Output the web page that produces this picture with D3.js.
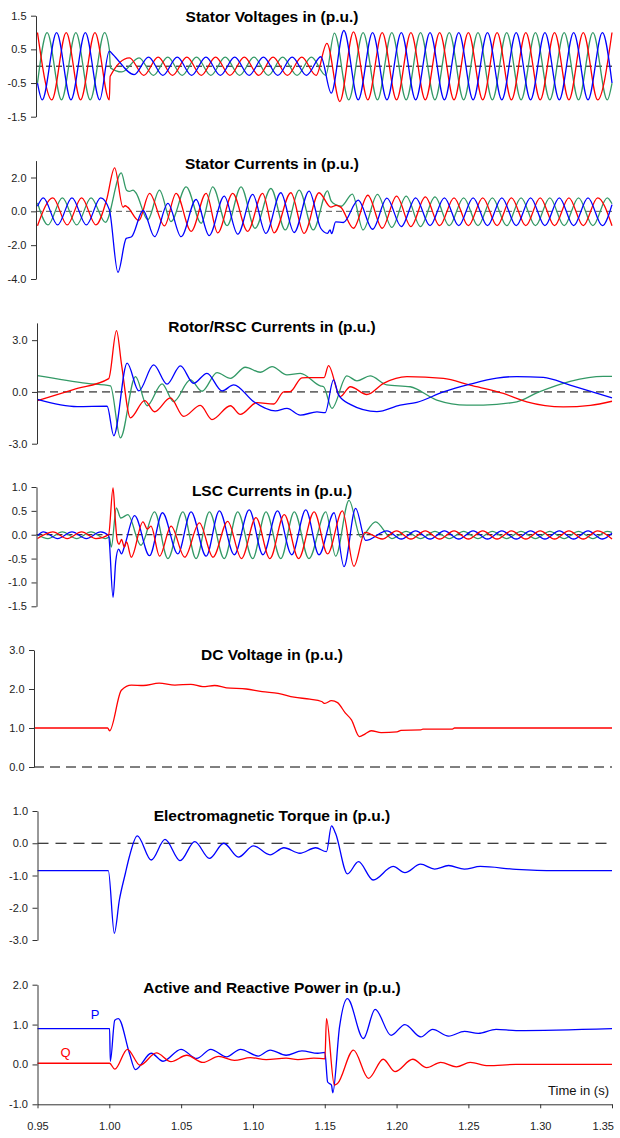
<!DOCTYPE html>
<html>
<head>
<meta charset="utf-8">
<script src="https://cdn.jsdelivr.net/npm/d3@7"></script>
<style>
  body { margin: 0; background: #fff; }
  text { font-family: "Liberation Sans", Arial, sans-serif; }
</style>
</head>
<body>
<svg id="chart" width="620" height="1138"></svg>
<script>
// ---- data (time in s, value in p.u.) ----
// three phase signals are given by their turning points

var timeTicks = [0.95, 1.00, 1.05, 1.10, 1.15, 1.20, 1.25, 1.30, 1.35];

var vsTicks = [-1.5, -0.5, 0.5, 1.5];
var vsRed = [[0.95,1],[0.96,-1],[0.97,1],[0.98,-1],[0.99,1],[1.0,-1],[1.0006,-0.3],[1.014,0.25],[1.024,-0.27],[1.034,0.27],[1.044,-0.27],[1.054,0.27],[1.064,-0.27],[1.074,0.27],[1.084,-0.27],[1.094,0.27],[1.104,-0.27],[1.114,0.27],[1.124,-0.27],[1.134,0.27],[1.144,-0.27],[1.1515,0.68],[1.1605,-1.05],[1.17,1.02],[1.18,-1],[1.19,1],[1.2,-1],[1.21,1],[1.22,-1],[1.23,1],[1.24,-1],[1.25,1],[1.26,-1],[1.27,1],[1.28,-1],[1.29,1],[1.3,-1],[1.31,1],[1.32,-1],[1.33,1],[1.34,-1],[1.35,1]];
var vsBlue = [[0.95,-0.5],[0.9533,-1],[0.9633,1],[0.9733,-1],[0.9833,1],[0.9933,-1],[1.0,0.45],[1.0025,0.35],[1.0173,-0.25],[1.0273,0.27],[1.0373,-0.27],[1.0473,0.27],[1.0573,-0.27],[1.0673,0.27],[1.0773,-0.27],[1.0873,0.27],[1.0973,-0.27],[1.1073,0.27],[1.1173,-0.27],[1.1273,0.27],[1.1373,-0.27],[1.1473,0.28],[1.1545,-0.8],[1.1633,1.06],[1.1733,-1],[1.1833,1],[1.1933,-1],[1.2033,1],[1.2133,-1],[1.2233,1],[1.2333,-1],[1.2433,1],[1.2533,-1],[1.2633,1],[1.2733,-1],[1.2833,1],[1.2933,-1],[1.3033,1],[1.3133,-1],[1.3233,1],[1.3333,-1],[1.3433,1],[1.35,-0.5]];
var vsGreen = [[0.95,-0.5],[0.9567,1],[0.9667,-1],[0.9767,1],[0.9867,-1],[0.9967,1],[1.0,0.5],[1.0008,-0.05],[1.0087,-0.17],[1.0207,0.25],[1.0307,-0.27],[1.0407,0.27],[1.0507,-0.27],[1.0607,0.27],[1.0707,-0.27],[1.0807,0.27],[1.0907,-0.27],[1.1007,0.27],[1.1107,-0.27],[1.1207,0.27],[1.1307,-0.27],[1.1407,0.27],[1.1507,-0.27],[1.1567,0.98],[1.1667,-1],[1.1767,1],[1.1867,-1],[1.1967,1],[1.2067,-1],[1.2167,1],[1.2267,-1],[1.2367,1],[1.2467,-1],[1.2567,1],[1.2667,-1],[1.2767,1],[1.2867,-1],[1.2967,1],[1.3067,-1],[1.3167,1],[1.3267,-1],[1.3367,1],[1.3467,-1],[1.35,-0.5]];

var isTicks = [-4, -2, 0, 2];
var isRed = [[0.95,-0.85],[0.9607,0.8],[0.9707,-0.8],[0.9807,0.8],[0.9907,-0.8],[0.998,0.65],[1.0037,2.57],[1.0095,0.25],[1.011,0.33],[1.0127,0.25],[1.0205,-0.55],[1.028,1.06],[1.0384,-0.86],[1.0465,1.06],[1.057,-1.18],[1.0674,1.06],[1.0755,-1.27],[1.0859,1.06],[1.0963,-1.18],[1.1067,1.06],[1.1148,-1.27],[1.1264,1.1],[1.1356,-1.3],[1.146,1.1],[1.1542,0.25],[1.158,0.35],[1.1611,0.25],[1.17,-1.0],[1.18,0.95],[1.19,-1.0],[1.2,0.9],[1.21,-0.9],[1.22,0.85],[1.23,-0.85],[1.24,0.8],[1.25,-0.85],[1.26,0.8],[1.27,-0.85],[1.28,0.8],[1.29,-0.85],[1.3,0.8],[1.31,-0.85],[1.32,0.8],[1.33,-0.85],[1.34,0.8],[1.35,-0.85]];
var isBlue = [[0.95,0.3],[0.954,0.8],[0.964,-0.8],[0.974,0.8],[0.984,-0.8],[0.994,0.8],[1.0,0.1],[1.006,-3.6],[1.0118,-1.6],[1.0155,-1.5],[1.0235,0.05],[1.0315,-1.5],[1.0408,0.47],[1.05,-1.5],[1.0604,0.7],[1.0695,-1.43],[1.08,0.9],[1.0894,-1.35],[1.0998,1.0],[1.109,-1.3],[1.1194,1.1],[1.1287,-1.25],[1.1391,1.2],[1.1472,-1.0],[1.1519,-1.3],[1.1537,-1.1],[1.1548,-1.32],[1.1576,-0.62],[1.163,-0.66],[1.1733,0.66],[1.1833,-1.06],[1.1933,0.78],[1.2033,-0.9],[1.2133,0.8],[1.2233,-0.85],[1.2333,0.8],[1.2433,-0.85],[1.2533,0.8],[1.2633,-0.85],[1.2733,0.8],[1.2833,-0.85],[1.2933,0.8],[1.3033,-0.85],[1.3133,0.8],[1.3233,-0.85],[1.3333,0.8],[1.3433,-0.85],[1.35,0.4]];
var isGreen = [[0.95,0.5],[0.9573,-0.8],[0.9673,0.8],[0.9773,-0.8],[0.9873,0.8],[0.9973,-0.65],[1.0083,2.27],[1.012,1.25],[1.014,1.18],[1.0165,1.25],[1.0185,1.1],[1.0268,-0.5],[1.0349,1.25],[1.043,-0.6],[1.0535,1.45],[1.064,-0.7],[1.072,1.45],[1.082,-0.85],[1.0917,1.45],[1.1015,-1.0],[1.1125,1.35],[1.1225,-1.1],[1.1322,1.25],[1.142,-1.1],[1.1519,1.21],[1.1545,0.6],[1.158,0.38],[1.1615,0.3],[1.1692,1.02],[1.1767,-1.1],[1.1867,1.0],[1.1967,-0.95],[1.2067,0.9],[1.2167,-0.9],[1.2267,0.85],[1.2367,-0.85],[1.2467,0.8],[1.2567,-0.85],[1.2667,0.8],[1.2767,-0.85],[1.2867,0.8],[1.2967,-0.85],[1.3067,0.8],[1.3167,-0.85],[1.3267,0.8],[1.3367,-0.85],[1.3467,0.8],[1.35,0.45]];

var irTicks = [-3, 0, 3];
var irRed = [[0.95,-0.5],[0.975,0.14],[0.9996,0.77],[1.005,3.55],[1.0085,1.6],[1.0147,-1.5],[1.0246,-0.5],[1.0315,-1.15],[1.0425,-0.35],[1.0518,-1.42],[1.0634,-0.78],[1.0715,-1.6],[1.0843,-0.8],[1.0912,-1.3],[1.1028,-0.62],[1.1145,-0.7],[1.1214,0.0],[1.126,0.02],[1.1341,0.82],[1.1495,0.83],[1.1526,1.53],[1.1608,-0.27],[1.1678,0.3],[1.1793,-0.15],[1.1909,0.5],[1.2072,0.89],[1.2326,0.78],[1.2512,0.39],[1.2744,-0.09],[1.2907,-0.58],[1.3161,-0.87],[1.335,-0.78],[1.35,-0.54]];
var irBlue = [[0.95,-0.43],[0.9776,-0.85],[0.9985,-0.83],[1.0031,-2.54],[1.0124,1.67],[1.0205,0.06],[1.0309,1.57],[1.0402,0.45],[1.0495,1.51],[1.0587,0.5],[1.068,1.08],[1.0785,0.06],[1.0866,0.41],[1.1005,-0.56],[1.1156,-1.1],[1.1237,-0.95],[1.133,-1.34],[1.1446,-1.16],[1.1503,-1.2],[1.1561,0.7],[1.1596,-0.17],[1.1677,-0.72],[1.1863,-1.14],[1.2025,-0.76],[1.2141,-0.6],[1.2326,0.0],[1.2512,0.45],[1.2698,0.8],[1.2837,0.89],[1.3022,0.84],[1.3208,0.39],[1.35,-0.34]];
var irGreen = [[0.95,0.95],[0.9846,0.5],[1.0008,0.35],[1.0077,-2.66],[1.0182,0.89],[1.0263,-0.8],[1.0367,0.47],[1.0448,-0.56],[1.0564,0.7],[1.0646,0.04],[1.075,1.12],[1.0843,0.79],[1.0947,1.43],[1.1051,1.14],[1.1133,1.47],[1.1237,0.99],[1.133,1.08],[1.1469,0.35],[1.1492,0.3],[1.155,-0.95],[1.1654,0.93],[1.1724,0.64],[1.1816,0.93],[1.1932,0.41],[1.2095,0.3],[1.228,-0.47],[1.2489,-0.76],[1.2605,-0.76],[1.2837,-0.57],[1.2976,-0.06],[1.3208,0.61],[1.3439,0.9],[1.35,0.9]];

var lscTicks = [-1.5, -1.0, -0.5, 0.0, 0.5, 1.0];
var lscRed = [[0.95,-0.08],[0.9607,0.06],[0.9707,-0.08],[0.9807,0.06],[0.9907,-0.08],[0.9995,0.0],[1.0026,0.98],[1.0042,0.3],[1.0055,-0.12],[1.0068,-0.2],[1.0085,-0.1],[1.0105,-0.26],[1.012,-0.15],[1.0153,-0.47],[1.0234,0.27],[1.0265,0.12],[1.029,0.18],[1.035,-0.45],[1.043,0.18],[1.0525,-0.47],[1.0627,0.25],[1.0722,-0.47],[1.0824,0.28],[1.092,-0.5],[1.1021,0.36],[1.1118,-0.5],[1.1218,0.42],[1.1318,-0.5],[1.1426,0.48],[1.152,-0.4],[1.1623,0.5],[1.1703,-0.66],[1.178,0.05],[1.19,-0.09],[1.2,0.08],[1.21,-0.09],[1.22,0.08],[1.23,-0.09],[1.24,0.08],[1.25,-0.09],[1.26,0.08],[1.27,-0.09],[1.28,0.08],[1.29,-0.09],[1.3,0.08],[1.31,-0.09],[1.32,0.08],[1.33,-0.09],[1.34,0.08],[1.35,-0.09]];
var lscBlue = [[0.95,-0.02],[0.954,0.06],[0.964,-0.08],[0.974,0.06],[0.984,-0.08],[0.994,0.06],[0.9995,-0.02],[1.0026,-1.31],[1.0045,-0.55],[1.0065,-0.3],[1.0085,-0.4],[1.0105,-0.25],[1.0176,0.4],[1.028,-0.44],[1.037,0.46],[1.0477,-0.4],[1.0569,0.48],[1.0674,-0.45],[1.0766,0.5],[1.087,-0.42],[1.0974,0.52],[1.107,-0.42],[1.1171,0.5],[1.127,-0.42],[1.1368,0.52],[1.146,-0.42],[1.1565,0.46],[1.1634,-0.67],[1.1715,0.55],[1.1785,-0.12],[1.1933,0.08],[1.2033,-0.09],[1.2133,0.08],[1.2233,-0.09],[1.2333,0.08],[1.2433,-0.09],[1.2533,0.08],[1.2633,-0.09],[1.2733,0.08],[1.2833,-0.09],[1.2933,0.08],[1.3033,-0.09],[1.3133,0.08],[1.3233,-0.09],[1.3333,0.08],[1.3433,-0.09],[1.35,0.03]];
var lscGreen = [[0.95,0.0],[0.9573,-0.08],[0.9673,0.06],[0.9773,-0.08],[0.9873,0.06],[0.9973,-0.08],[1.0,-0.05],[1.0014,-0.26],[1.0049,0.56],[1.008,0.35],[1.0129,0.42],[1.022,-0.22],[1.0315,0.48],[1.0408,-0.5],[1.0512,0.48],[1.0604,-0.5],[1.0697,0.48],[1.08,-0.5],[1.0894,0.48],[1.0998,-0.5],[1.1091,0.48],[1.1194,-0.5],[1.1288,0.48],[1.139,-0.5],[1.1507,0.48],[1.1576,-0.45],[1.1669,0.72],[1.175,-0.05],[1.1854,0.27],[1.1967,-0.08],[1.2067,0.07],[1.2167,-0.08],[1.2267,0.07],[1.2367,-0.08],[1.2467,0.07],[1.2567,-0.08],[1.2667,0.07],[1.2767,-0.08],[1.2867,0.07],[1.2967,-0.08],[1.3067,0.07],[1.3167,-0.08],[1.3267,0.07],[1.3367,-0.08],[1.3467,0.07],[1.35,0.05]];

var dcTicks = [0, 1, 2, 3];
var dcVolt = [[0.9475,1.0],[0.9988,1.0],[1.0002,0.93],[1.0084,1.97],[1.0154,2.1],[1.0237,2.09],[1.0347,2.15],[1.0457,2.1],[1.0568,2.12],[1.0651,2.06],[1.0733,2.09],[1.0816,2.03],[1.0954,2.0],[1.1064,1.93],[1.1175,1.89],[1.1286,1.79],[1.1396,1.74],[1.1478,1.68],[1.1501,1.63],[1.1547,1.7],[1.1589,1.65],[1.1644,1.38],[1.1686,1.21],[1.1741,0.78],[1.1782,0.85],[1.1823,0.93],[1.1893,0.88],[1.2003,0.9],[1.2031,0.94],[1.2169,0.95],[1.2183,0.97],[1.2389,0.97],[1.2404,1.0],[1.35,1.0]];

var teTicks = [-3, -2, -1, 0, 1];
var torque = [[0.95,-0.85],[0.9993,-0.85],[1.0035,-2.79],[1.007,-1.76],[1.0112,-0.93],[1.014,-0.41],[1.0195,0.23],[1.0292,-0.52],[1.0388,0.12],[1.0493,-0.54],[1.0595,0.05],[1.0697,-0.47],[1.0797,0.0],[1.0899,-0.43],[1.1004,-0.08],[1.1119,-0.36],[1.1216,-0.14],[1.1327,-0.31],[1.1437,-0.14],[1.1512,-0.26],[1.1547,0.54],[1.1575,0.31],[1.1658,-0.95],[1.1735,-0.57],[1.1837,-1.14],[1.1976,-0.72],[1.2058,-0.91],[1.2167,-0.65],[1.2265,-0.8],[1.2362,-0.69],[1.2472,-0.8],[1.2583,-0.72],[1.2832,-0.81],[1.3107,-0.85],[1.35,-0.85]];

var pqTicks = [-1, 0, 1, 2];
var powerP = [[0.95,0.9],[1.0002,0.9],[1.0007,0.08],[1.0038,1.11],[1.0063,1.15],[1.014,0.28],[1.0181,-0.13],[1.0292,0.28],[1.0374,0.08],[1.0499,0.38],[1.0609,0.15],[1.0706,0.38],[1.0816,0.19],[1.0913,0.38],[1.1037,0.21],[1.112,0.36],[1.1231,0.23],[1.1341,0.34],[1.1452,0.28],[1.1501,0.3],[1.152,-0.44],[1.1547,-0.52],[1.1556,-0.71],[1.1603,0.94],[1.1658,1.65],[1.1769,0.65],[1.1851,1.38],[1.1962,0.73],[1.2058,1.0],[1.2169,0.69],[1.2251,0.88],[1.2362,0.71],[1.2473,0.83],[1.2569,0.78],[1.2693,0.88],[1.2832,0.85],[1.35,0.9]];
var powerQ = [[0.95,0.03],[1.0002,0.03],[1.0038,-0.12],[1.0126,0.38],[1.0214,-0.02],[1.0328,0.29],[1.0429,0.07],[1.054,0.23],[1.0651,0.05],[1.0761,0.2],[1.0871,0.1],[1.0982,0.17],[1.1092,0.12],[1.1231,0.16],[1.1313,0.12],[1.1424,0.16],[1.1501,0.14],[1.1512,1.15],[1.1567,-0.52],[1.1589,-0.48],[1.17,0.36],[1.1805,-0.35],[1.1907,0.13],[1.1989,-0.18],[1.2113,0.13],[1.221,-0.08],[1.2307,0.05],[1.2417,-0.06],[1.2513,0.05],[1.2638,-0.03],[1.2832,0.0],[1.35,0.0]];

// ---- drawing ----
var RED = "#ff0000", BLUE = "#0000ff", GREEN = "#339966";
var right = 612;

var svg = d3.select("#chart");
var x = d3.scaleLinear().domain([0.95, 1.35]).range([37.5, right]);

// plain hyphen for negative tick labels
var loc = d3.formatLocale({decimal: ".", thousands: ",", grouping: [3], currency: ["", ""], minus: "-"});
var f1 = loc.format(".1f"), f2 = loc.format(".2f");

var panels = [
  {title: "Stator Voltages in (p.u.)", dom: [-1.5, 1.5], rng: [116.7, 15.7], ticks: vsTicks, ax: 36, ty: 16, dash: "6,4", zc: "#000",
   series: [[vsGreen, GREEN], [vsRed, RED], [vsBlue, BLUE]]},
  {title: "Stator Currents in (p.u.)", dom: [-4, 3], rng: [279, 160.6], ticks: isTicks, ax: 36, ty: 163.5, dash: "6,4", zc: "#555",
   series: [[isGreen, GREEN], [isRed, RED], [isBlue, BLUE]]},
  {title: "Rotor/RSC Currents in (p.u.)", dom: [-3, 4], rng: [443.7, 322.9], ticks: irTicks, ax: 37, ty: 326, dash: "8,5", zc: "#000",
   series: [[irGreen, GREEN], [irRed, RED], [irBlue, BLUE]]},
  {title: "LSC Currents in (p.u.)", dom: [-1.5, 1.0], rng: [606.3, 487], ticks: lscTicks, ax: 36.5, ty: 490.7, dash: "6,4", zc: "#000",
   series: [[lscGreen, GREEN], [lscBlue, BLUE], [lscRed, RED]]},
  {title: "DC Voltage in (p.u.)", dom: [0, 3], rng: [767, 650], ticks: dcTicks, ax: 34, ty: 654, dash: "10,6", zc: "#000",
   series: [[dcVolt, RED]]},
  {title: "Electromagnetic Torque in (p.u.)", dom: [-3, 1], rng: [940, 811], ticks: teTicks, ax: 37.5, ty: 815, dash: "11,7", zc: "#000",
   series: [[torque, BLUE]]},
  {title: "Active and Reactive Power in (p.u.)", dom: [-1, 2], rng: [1104.3, 984.7], ticks: pqTicks, ax: 37.5, ty: 987.5, dash: null,
   series: [[powerP, BLUE], [powerQ, RED]]}
];

panels.forEach(function(p, i) {
  var y = d3.scaleLinear().domain(p.dom).range(p.rng);
  var g = svg.append("g").attr("class", "panel");

  if (p.dash) {
    g.append("line")
      .attr("x1", p.ax).attr("x2", right)
      .attr("y1", y(0)).attr("y2", y(0))
      .attr("stroke", p.zc).attr("stroke-width", 1)
      .attr("stroke-dasharray", p.dash);
  }

  var line = d3.line()
    .x(function(d) { return x(d[0]); })
    .y(function(d) { return y(d[1]); })
    .curve(d3.curveMonotoneX);

  p.series.forEach(function(s) {
    g.append("path")
      .datum(s[0])
      .attr("d", line)
      .attr("fill", "none")
      .attr("stroke", s[1])
      .attr("stroke-width", 1.3)
      .attr("stroke-linejoin", "round");
  });

  var yAxis = d3.axisLeft(y).tickValues(p.ticks).tickFormat(f1)
    .tickSize(5).tickSizeOuter(0).tickPadding(4.5);
  var ga = g.append("g")
    .attr("transform", "translate(" + p.ax + ",0)")
    .call(yAxis);
  ga.attr("font-family", null).attr("font-size", 11).style("color", "#333");
  ga.selectAll("text").attr("fill", "#222");

  g.append("text")
    .attr("x", 272).attr("y", p.ty)
    .attr("text-anchor", "middle").attr("dominant-baseline", "central")
    .attr("font-weight", "bold").attr("font-size", 15.5)
    .text(p.title);

  if (i === panels.length - 1) {
    var xAxis = d3.axisBottom(x).tickValues(timeTicks).tickFormat(f2)
      .tickSize(4).tickSizeOuter(0).tickPadding(14);
    var gx = g.append("g")
      .attr("transform", "translate(0," + y(-1) + ")")
      .call(xAxis);
    gx.attr("font-family", null).attr("font-size", 11).style("color", "#333");
    gx.selectAll("text").attr("fill", "#222");
    // keep the last label inside the picture
    gx.selectAll(".tick").filter(function(d) { return d === timeTicks[timeTicks.length - 1]; })
      .select("text").attr("text-anchor", "end").attr("x", 1.5);

    g.append("text").attr("x", 95).attr("y", 1014)
      .attr("text-anchor", "middle").attr("dominant-baseline", "central")
      .attr("font-size", 13).attr("fill", BLUE).text("P");
    g.append("text").attr("x", 65.5).attr("y", 1052)
      .attr("text-anchor", "middle").attr("dominant-baseline", "central")
      .attr("font-size", 13).attr("fill", RED).text("Q");
    g.append("text").attr("x", 609).attr("y", 1090)
      .attr("text-anchor", "end").attr("dominant-baseline", "central")
      .attr("font-size", 13).attr("fill", "#111").text("Time in (s)");
  }
});
</script>
</body>
</html>
